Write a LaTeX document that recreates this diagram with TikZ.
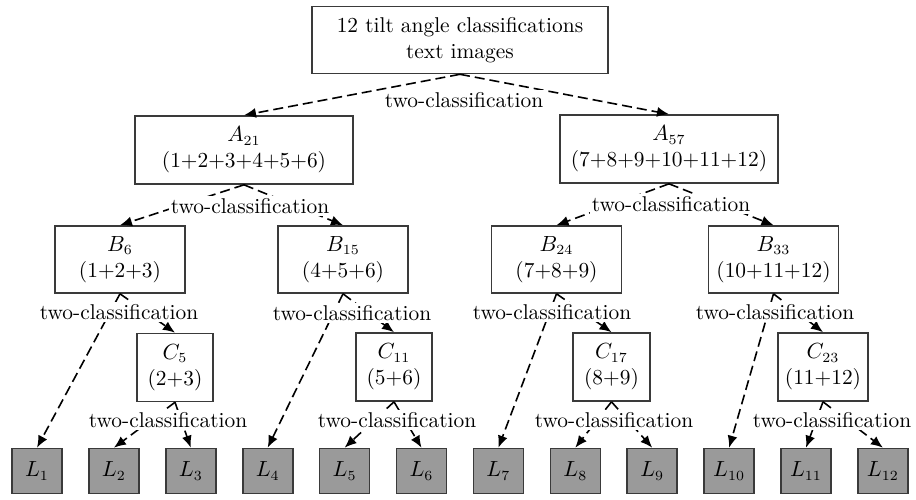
\documentclass[tikz,border=0pt]{standalone}
\definecolor{boxline}{HTML}{3A3A3A}
\definecolor{leafgray}{HTML}{9A9A9A}
\usepackage{tikz}
\usetikzlibrary{arrows.meta,positioning}

\begin{document}
\begin{tikzpicture}[x=0.5pt, y=-0.5pt, >={Latex[length=6pt,width=5pt]},
  font=\fontsize{10.7}{13}\selectfont,
  classbox/.style={draw=boxline, line width=0.8pt, align=center, inner sep=2pt, minimum height=34pt},
  leafbox/.style={draw=boxline, line width=0.8pt, fill=leafgray, minimum width=25pt, minimum height=22.5pt, inner sep=1pt},
  splitarrow/.style={->, line width=0.8pt, dash pattern=on 5pt off 2.5pt},
  splitlabel/.style={fill=white, inner sep=1pt}]
  \useasboundingbox (0,0) rectangle (916,499);

  % Root
  \node[classbox, minimum width=148pt, minimum height=33.5pt] (root) at (460,40) {12 tilt angle classifications\\text images};

  % First split
  \node[classbox, minimum width=109pt] (A21) at (244,150) {$A_{21}$\\(1+2+3+4+5+6)};
  \node[classbox, minimum width=109pt] (A57) at (669,149) {$A_{57}$\\(7+8+9+10+11+12)};

  % Second split
  \node[classbox, minimum width=65pt, minimum height=33.5pt] (B6) at (120,259.5) {$B_{6}$\\(1+2+3)};
  \node[classbox, minimum width=65pt, minimum height=33.5pt] (B15) at (343,259.5) {$B_{15}$\\(4+5+6)};
  \node[classbox, minimum width=65pt, minimum height=33.5pt] (B24) at (556.5,259.5) {$B_{24}$\\(7+8+9)};
  \node[classbox, minimum width=65pt, minimum height=33.5pt] (B33) at (773.5,259.5) {$B_{33}$\\(10+11+12)};

  % Third split
  \node[classbox, minimum width=38pt] (C5) at (175,367.5) {$C_{5}$\\(2+3)};
  \node[classbox, minimum width=38pt] (C11) at (394,367) {$C_{11}$\\(5+6)};
  \node[classbox, minimum width=38.5pt] (C17) at (611.5,367) {$C_{17}$\\(8+9)};
  \node[classbox, minimum width=45pt] (C23) at (823,367) {$C_{23}$\\(11+12)};

  % Leaves
  \node[leafbox] (L1) at (37,471) {$L_{1}$};
  \node[leafbox] (L2) at (113.9,471) {$L_{2}$};
  \node[leafbox] (L3) at (190.8,471) {$L_{3}$};
  \node[leafbox] (L4) at (267.7,471) {$L_{4}$};
  \node[leafbox] (L5) at (344.6,471) {$L_{5}$};
  \node[leafbox] (L6) at (421.5,471) {$L_{6}$};
  \node[leafbox] (L7) at (498.4,471) {$L_{7}$};
  \node[leafbox] (L8) at (575.3,471) {$L_{8}$};
  \node[leafbox] (L9) at (652.2,471) {$L_{9}$};
  \node[leafbox] (L10) at (729.1,471) {$L_{10}$};
  \node[leafbox] (L11) at (806,471) {$L_{11}$};
  \node[leafbox] (L12) at (882.9,471) {$L_{12}$};

  % Arrows
  \draw[splitarrow] (root.south) -- (A21.north);
  \draw[splitarrow] (root.south) -- (A57.north);
  \draw[splitarrow] (A21.south) -- (B6.north);
  \draw[splitarrow] (A21.south) -- (B15.north);
  \draw[splitarrow] (A57.south) -- (B24.north);
  \draw[splitarrow] (A57.south) -- (B33.north);
  \draw[splitarrow] (B6.south) -- (L1.north);
  \draw[splitarrow] (B6.south) -- (C5.north);
  \draw[splitarrow] (B15.south) -- (L4.north);
  \draw[splitarrow] (B15.south) -- (C11.north);
  \draw[splitarrow] (B24.south) -- (L7.north);
  \draw[splitarrow] (B24.south) -- (C17.north);
  \draw[splitarrow] (B33.south) -- (L10.north);
  \draw[splitarrow] (B33.south) -- (C23.north);
  \draw[splitarrow] (C5.south) -- (L2.north);
  \draw[splitarrow] (C5.south) -- (L3.north);
  \draw[splitarrow] (C11.south) -- (L5.north);
  \draw[splitarrow] (C11.south) -- (L6.north);
  \draw[splitarrow] (C17.south) -- (L8.north);
  \draw[splitarrow] (C17.south) -- (L9.north);
  \draw[splitarrow] (C23.south) -- (L11.north);
  \draw[splitarrow] (C23.south) -- (L12.north);

  % Labels
  \node[splitlabel] (lroot) at (464,100) {two-classification};
  \node[splitlabel] (lA21) at (250,206) {two-classification};
  \node[splitlabel] (lA57) at (671,204) {two-classification};
  \node[splitlabel] (lB6) at (119,312) {two-classification};
  \node[splitlabel] (lB15) at (352,313) {two-classification};
  \node[splitlabel] (lB24) at (552,312) {two-classification};
  \node[splitlabel] (lB33) at (775,312) {two-classification};
  \node[splitlabel] (lC5) at (168,420) {two-classification};
  \node[splitlabel] (lC11) at (397,420) {two-classification};
  \node[splitlabel] (lC17) at (614,420) {two-classification};
  \node[splitlabel] (lC23) at (832,420) {two-classification};
\end{tikzpicture}
\end{document}
